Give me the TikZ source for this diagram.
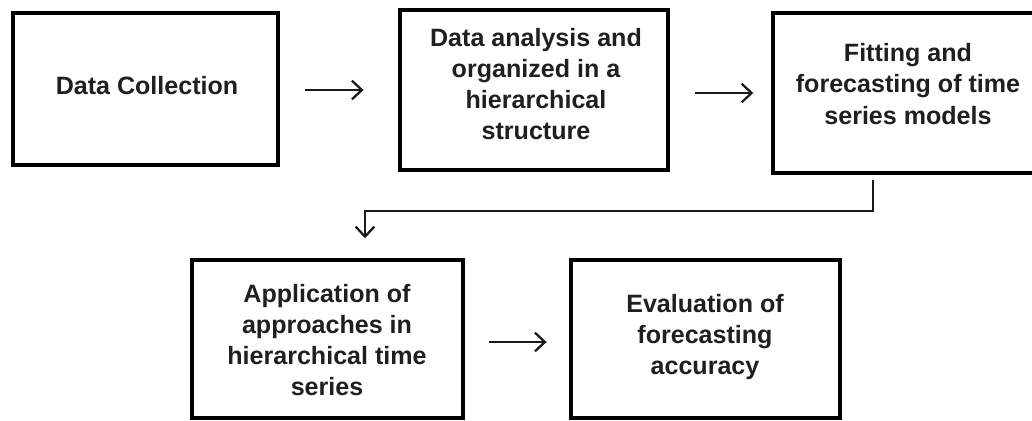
\documentclass[tikz,border=0pt]{standalone}
\usepackage{fontspec}
\setmainfont{Liberation Sans}
\usetikzlibrary{arrows.meta,calc}
\begin{document}
\begin{tikzpicture}[x=0.75pt,y=-0.75pt,
  box/.style={draw=black,line width=2.6pt,rectangle,inner sep=0pt},
  lbl/.style={align=center,font=\fontsize{18.8}{23.4}\selectfont\bfseries,text=black!88},
  conn/.style={line width=1.7pt,draw=black!90},
  arr/.style={conn,-{Straight Barb[length=7.5pt,width=14pt,line width=1.7pt]}}]
\useasboundingbox (0,0) rectangle (1032,421);
\clip (0,0) rectangle (1032,421);
% boxes
\node[box,minimum width=198.75pt,minimum height=114pt] (b1) at (145.5,89) {};
\node[box,minimum width=201pt,minimum height=120pt] (b2) at (534,90) {};
\node[box,minimum width=202.5pt,minimum height=120pt] (b3) at (908,93) {};
\node[box,minimum width=203.25pt,minimum height=118.5pt] (b4) at (327.5,339) {};
\node[box,minimum width=201.75pt,minimum height=118.5pt] (b5) at (705.5,339) {};
% texts
\node[lbl] (t1) at (147,86) {Data Collection};
\node[lbl] (t2) at (536,84) {Data analysis and\\organized in a\\hierarchical\\structure};
\node[lbl] (t3) at (908,84) {Fitting and\\forecasting of time\\series models};
\node[lbl] (t4) at (327,340) {Application of\\approaches in\\hierarchical time\\series};
\node[lbl] (t5) at (705,337) {Evaluation of\\forecasting\\accuracy};
% connectors
\draw[arr,shorten <=18.75pt,shorten >=26pt] ($(b1.east)+(0,1)$) -- ($(b2.west)+(0,0)$);
\draw[arr,shorten <=18.75pt,shorten >=13.5pt] ($(b2.east)+(0,3)$) -- (b3.west);
\draw[arr,shorten <=18pt,shorten >=17pt] ($(b4.east)+(0,3)$) -- ($(b5.west)+(0,3)$);
\coordinate (k1) at (873,211);
\coordinate (k2) at (365,211);
\draw[arr] ($(b3.south -| k1)+(0,5)$) -- (k1) -- (k2) -- ($(b4.north -| k2)+(0,-20)$);
\end{tikzpicture}
\end{document}
